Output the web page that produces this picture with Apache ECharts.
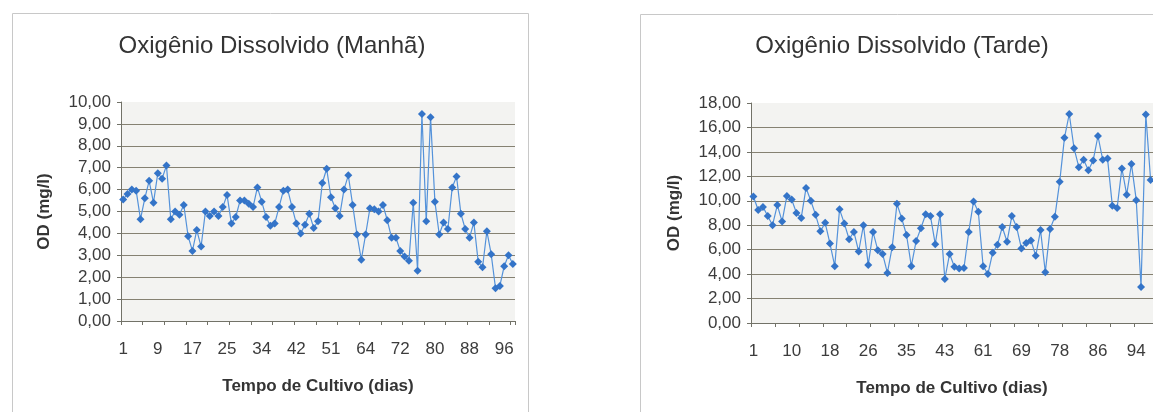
<!DOCTYPE html>
<html>
<head>
<meta charset="utf-8">
<script src="https://cdn.jsdelivr.net/npm/echarts@6/dist/echarts.min.js"></script>
<style>
html,body{margin:0;padding:0;background:#ffffff;}
#chart{width:1153px;height:412px;}
</style>
</head>
<body>
<div id="chart"></div>
<script>
// ---- data ----
const morningTitle = 'Oxigênio Dissolvido (Manhã)';
const afternoonTitle = 'Oxigênio Dissolvido (Tarde)';
const yAxisName = 'OD (mg/l)';
const xAxisName = 'Tempo de Cultivo (dias)';

// day labels shown on the x axis (one every 8 measurements)
const morningDayLabels = ['1','9','17','25','34','42','51','64','72','80','88','96'];
const afternoonDayLabels = ['1','10','18','26','35','43','61','69','78','86','94'];

// OD morning (mg/l), one value per measurement
const morningOD = [
  5.55, 5.8, 6.0, 5.95, 4.65, 5.6, 6.4, 5.4, 6.75, 6.5,
  7.1, 4.65, 5.0, 4.85, 5.3, 3.87, 3.2, 4.15, 3.4, 5.0,
  4.8, 5.0, 4.8, 5.2, 5.75, 4.45, 4.75, 5.5, 5.5, 5.35,
  5.2, 6.1, 5.45, 4.75, 4.35, 4.45, 5.2, 5.95, 6.0, 5.2,
  4.45, 4.0, 4.4, 4.9, 4.25, 4.55, 6.3, 6.95, 5.65, 5.15,
  4.8, 6.0, 6.65, 5.3, 3.95, 2.8, 3.95, 5.15, 5.1, 5.0,
  5.3, 4.6, 3.8, 3.8, 3.2, 2.95, 2.75, 5.4, 2.3, 9.45,
  4.55, 9.3, 5.45, 3.95, 4.5, 4.2, 6.1, 6.6, 4.9, 4.2,
  3.8, 4.5, 2.7, 2.45, 4.1, 3.05, 1.5, 1.6, 2.5, 3.0,
  2.6
];

// OD afternoon (mg/l)
const afternoonOD = [
  10.35, 9.25, 9.5, 8.75, 8.0, 9.65, 8.3, 10.4, 10.1, 9.0,
  8.6, 11.05, 10.0, 8.85, 7.5, 8.2, 6.5, 4.65, 9.3, 8.15,
  6.85, 7.45, 5.85, 8.0, 4.75, 7.45, 5.95, 5.65, 4.1, 6.2,
  9.75, 8.55, 7.2, 4.65, 6.7, 7.75, 8.9, 8.75, 6.45, 8.9,
  3.6, 5.65, 4.6, 4.45, 4.5, 7.45, 9.95, 9.1, 4.65, 4.0,
  5.75, 6.4, 7.85, 6.65, 8.75, 7.85, 6.1, 6.55, 6.75, 5.5,
  7.6, 4.15, 7.7, 8.7, 11.55, 15.15, 17.1, 14.3, 12.75, 13.35,
  12.5, 13.3, 15.3, 13.35, 13.45, 9.6, 9.4, 12.65, 10.5, 13.0,
  10.05, 2.95, 17.05, 11.7
];

const morningYMax = 10, morningYStep = 1;
const afternoonYMax = 18, afternoonYStep = 2;

// ---- styles ----
const FONT = '"Liberation Sans", Arial, sans-serif';
const labelColor = '#3c3c3c';
const titleColor = '#343434';
const gridColor = '#858172';
const axisColor = '#727268';
const markerColor = '#3474c8';
const lineColor = '#5492da';

const fmt = v => v.toFixed(2).replace('.', ',');
const cats = arr => arr.map((_, i) => String(i));

function xAxisFor(gridIndex, data, dayLabels) {
  return {
    type: 'category', gridIndex: gridIndex, data: cats(data), boundaryGap: true,
    name: xAxisName, nameLocation: 'middle', nameGap: 57,
    nameTextStyle: {fontFamily: FONT, fontSize: 17, fontWeight: 'bold', color: titleColor},
    axisLine: {show: true, lineStyle: {color: axisColor, width: 1}},
    axisTick: {show: true, interval: 4, length: 4, lineStyle: {color: axisColor}},
    axisLabel: {interval: 7, margin: 20, fontFamily: FONT, fontSize: 17, color: labelColor,
      formatter: (v, i) => dayLabels[Math.round(i / 8)] || ''},
    splitLine: {show: false}
  };
}
function yAxisFor(gridIndex, max, step) {
  return {
    type: 'value', gridIndex: gridIndex, min: 0, max: max, interval: step,
    name: yAxisName, nameLocation: 'middle', nameGap: 68, nameRotate: 90,
    nameTextStyle: {fontFamily: FONT, fontSize: 17, fontWeight: 'bold', color: titleColor},
    axisLine: {show: true, lineStyle: {color: axisColor, width: 1}},
    axisTick: {show: true, length: 4, lineStyle: {color: axisColor}},
    axisLabel: {margin: 10, fontFamily: FONT, fontSize: 17, color: labelColor, formatter: fmt},
    splitLine: {show: true, showMinLine: false, showMaxLine: false, lineStyle: {color: gridColor, width: 1}}
  };
}
function seriesFor(idx, data) {
  return {
    type: 'line', xAxisIndex: idx, yAxisIndex: idx, data: data,
    symbol: 'diamond', symbolSize: 8, showAllSymbol: true,
    itemStyle: {color: markerColor},
    lineStyle: {color: lineColor, width: 1.2},
    animation: false
  };
}

const chart = echarts.init(document.getElementById('chart'), null, {renderer: 'canvas'});
chart.setOption({
  animation: false,
  backgroundColor: '#ffffff',
  title: [
    {text: morningTitle, left: 272, top: 34, textAlign: 'center', padding: 0,
      textStyle: {fontFamily: FONT, fontSize: 24, fontWeight: 'normal', color: titleColor}},
    {text: afternoonTitle, left: 902, top: 34, textAlign: 'center', padding: 0,
      textStyle: {fontFamily: FONT, fontSize: 24, fontWeight: 'normal', color: titleColor}}
  ],
  graphic: [
    {type: 'rect', silent: true, z: -10,
      shape: {x: 12.5, y: 13.5, width: 516, height: 430},
      style: {fill: 'none', stroke: '#c8c8c8', lineWidth: 1}},
    {type: 'rect', silent: true, z: -10,
      shape: {x: 640.5, y: 14.5, width: 560, height: 430},
      style: {fill: 'none', stroke: '#c8c8c8', lineWidth: 1}}
  ],
  grid: [
    {left: 121, top: 102, width: 394, height: 219, show: true,
      backgroundColor: '#f3f3f1', borderWidth: 0},
    {left: 751, top: 103, width: 403, height: 220, show: true,
      backgroundColor: '#f3f3f1', borderWidth: 0}
  ],
  xAxis: [xAxisFor(0, morningOD, morningDayLabels), xAxisFor(1, afternoonOD, afternoonDayLabels)],
  yAxis: [yAxisFor(0, morningYMax, morningYStep), yAxisFor(1, afternoonYMax, afternoonYStep)],
  series: [seriesFor(0, morningOD), seriesFor(1, afternoonOD)]
});
</script>
</body>
</html>
